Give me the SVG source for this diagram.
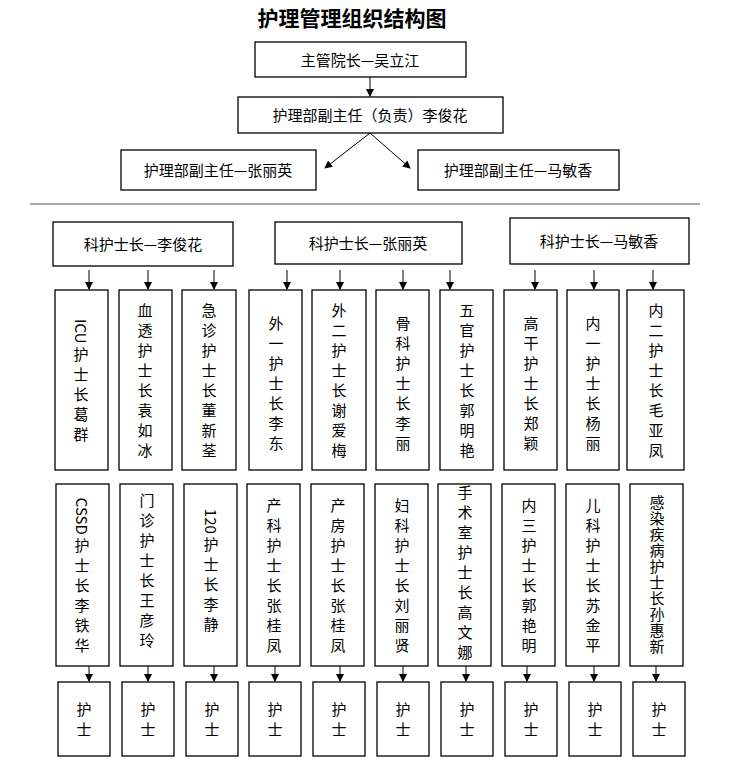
<svg xmlns="http://www.w3.org/2000/svg" width="752" height="768" viewBox="0 0 752 768">
<defs><marker id="a" markerWidth="8" markerHeight="8" refX="7" refY="4" orient="auto" markerUnits="userSpaceOnUse"><path d="M0,0L8,4L0,8z" fill="#000"/></marker></defs>
<style>
rect{fill:#fff;stroke:#000;stroke-width:1.3}
text{font-family:"Noto Sans CJK SC",sans-serif;font-size:15px;fill:#000}
.v{writing-mode:vertical-rl;text-anchor:middle;font-size:15px;letter-spacing:5px}
.l{letter-spacing:0}
.c line{stroke:#000;stroke-width:1;marker-end:url(#a)}
</style>
<rect x="0" y="0" width="752" height="768" style="stroke:none"/>
<text x="352" y="26" text-anchor="middle" style="font-size:21px;font-weight:bold">护理管理组织结构图</text>
<g id="n1"><rect x="255" y="42" width="211" height="35"/><text x="360" y="66" text-anchor="middle">主管院长—吴立江</text></g>
<g id="n2"><rect x="238" y="97" width="265" height="36"/><text x="370" y="121" text-anchor="middle">护理部副主任（负责）李俊花</text></g>
<g id="n3"><rect x="121" y="150" width="195" height="40"/><text x="218" y="176" text-anchor="middle">护理部副主任—张丽英</text></g>
<g id="n4"><rect x="418" y="150" width="201" height="40"/><text x="518" y="176" text-anchor="middle">护理部副主任—马敏香</text></g>
<line x1="30" y1="204" x2="700" y2="204" stroke="#555" stroke-width="1"/>
<g id="g1"><rect x="53" y="222" width="180" height="44"/><text x="143" y="250" text-anchor="middle">科护士长—李俊花</text></g>
<g id="g2"><rect x="275" y="222" width="187" height="42"/><text x="368" y="249" text-anchor="middle">科护士长—张丽英</text></g>
<g id="g3"><rect x="510" y="218" width="179" height="46"/><text x="599" y="247" text-anchor="middle">科护士长—马敏香</text></g>
<g id="r1">
<rect x="55" y="290" width="53" height="180"/><text class="v" x="81" y="383"><tspan class="l">ICU </tspan>护士长葛群</text>
<rect x="119" y="290" width="53" height="180"/><text class="v" x="145" y="383">血透护士长袁如冰</text>
<rect x="182" y="290" width="54" height="180"/><text class="v" x="209" y="383">急诊护士长董新荃</text>
<rect x="249" y="290" width="53" height="180"/><text class="v" x="276" y="386">外一护士长李东</text>
<rect x="312" y="290" width="54" height="180"/><text class="v" x="339" y="383">外二护士长谢爱梅</text>
<rect x="376" y="290" width="53" height="180"/><text class="v" x="403" y="386">骨科护士长李丽</text>
<rect x="440" y="290" width="53" height="180"/><text class="v" x="467" y="383">五官护士长郭明艳</text>
<rect x="504" y="290" width="53" height="180"/><text class="v" x="531" y="386">高干护士长郑颖</text>
<rect x="567" y="290" width="52" height="180"/><text class="v" x="593" y="386">内一护士长杨丽</text>
<rect x="627" y="290" width="57" height="180"/><text class="v" x="656" y="383">内二护士长毛亚凤</text>
</g>
<g id="r2">
<rect x="56" y="484" width="53" height="182"/><text class="v" x="82" y="578"><tspan class="l">CSSD </tspan>护士长李铁华</text>
<rect x="120" y="484" width="53" height="182"/><text class="v" x="147" y="573">门诊护士长王彦玲</text>
<rect x="184" y="484" width="53" height="182"/><text class="v" x="211" y="573"><tspan class="l">120 </tspan>护士长李静</text>
<rect x="247" y="484" width="53" height="182"/><text class="v" x="274" y="578">产科护士长张桂凤</text>
<rect x="311" y="484" width="53" height="182"/><text class="v" x="338" y="578">产房护士长张桂凤</text>
<rect x="375" y="484" width="53" height="182"/><text class="v" x="402" y="578">妇科护士长刘丽贤</text>
<rect x="438" y="484" width="53" height="182"/><text class="v" x="465" y="575">手术室护士长高文娜</text>
<rect x="502" y="484" width="53" height="182"/><text class="v" x="529" y="578">内三护士长郭艳明</text>
<rect x="566" y="484" width="53" height="182"/><text class="v" x="593" y="578">儿科护士长苏金平</text>
<rect x="630" y="484" width="53" height="182"/><text class="v" x="657" y="575" style="letter-spacing:1px">感染疾病护士长孙惠新</text>
</g>
<g id="r3">
<rect x="58" y="682" width="52" height="74"/><text class="v" x="84" y="722">护士</text>
<rect x="122" y="682" width="52" height="74"/><text class="v" x="148" y="722">护士</text>
<rect x="186" y="682" width="52" height="74"/><text class="v" x="212" y="722">护士</text>
<rect x="249" y="682" width="52" height="74"/><text class="v" x="275" y="722">护士</text>
<rect x="313" y="682" width="52" height="74"/><text class="v" x="339" y="722">护士</text>
<rect x="377" y="682" width="52" height="74"/><text class="v" x="403" y="722">护士</text>
<rect x="441" y="682" width="52" height="74"/><text class="v" x="467" y="722">护士</text>
<rect x="505" y="682" width="52" height="74"/><text class="v" x="531" y="722">护士</text>
<rect x="569" y="682" width="52" height="74"/><text class="v" x="595" y="722">护士</text>
<rect x="633" y="682" width="52" height="74"/><text class="v" x="659" y="722">护士</text>
</g>
<g class="c" id="connectors">
<line x1="370" y1="77" x2="370" y2="96"/>
<line x1="370" y1="133" x2="325" y2="168"/>
<line x1="370" y1="133" x2="410" y2="168"/>
<line x1="89" y1="270" x2="89" y2="289"/>
<line x1="148" y1="270" x2="148" y2="289"/>
<line x1="214" y1="270" x2="214" y2="289"/>
<line x1="287" y1="270" x2="287" y2="289"/>
<line x1="340" y1="270" x2="340" y2="289"/>
<line x1="403" y1="270" x2="403" y2="289"/>
<line x1="450" y1="270" x2="450" y2="289"/>
<line x1="535" y1="270" x2="535" y2="289"/>
<line x1="594" y1="270" x2="594" y2="289"/>
<line x1="653" y1="270" x2="653" y2="289"/>
<line x1="89" y1="666" x2="89" y2="681"/>
<line x1="148" y1="666" x2="148" y2="681"/>
<line x1="214" y1="666" x2="214" y2="681"/>
<line x1="275" y1="666" x2="275" y2="681"/>
<line x1="340" y1="666" x2="340" y2="681"/>
<line x1="403" y1="666" x2="403" y2="681"/>
<line x1="466" y1="666" x2="466" y2="681"/>
<line x1="527" y1="666" x2="527" y2="681"/>
<line x1="594" y1="666" x2="594" y2="681"/>
<line x1="656" y1="666" x2="656" y2="681"/>
</g>
</svg>
